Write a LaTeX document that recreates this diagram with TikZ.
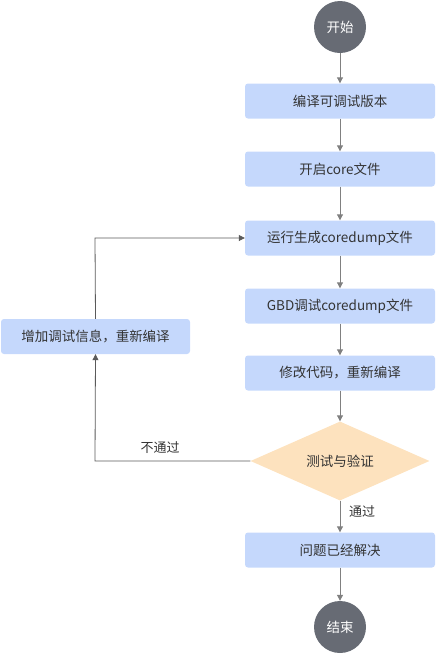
\documentclass[tikz,border=0pt]{standalone}
\usepackage{fontspec}
\setmainfont{Noto Sans CJK SC}
\usetikzlibrary{shapes.geometric,arrows.meta}
\definecolor{boxblue}{RGB}{197,216,252}
\definecolor{diaorange}{RGB}{253,226,190}
\definecolor{circgray}{RGB}{103,107,116}
\definecolor{txt}{RGB}{51,51,51}
\definecolor{arrgray}{RGB}{128,128,128}
\definecolor{loopgray}{RGB}{90,90,90}
\tikzset{
  stepbox/.style={rectangle, rounded corners=3pt, fill=boxblue, minimum width=190pt, minimum height=35pt, inner sep=0pt, text=txt, font=\fontsize{13.5}{16}\selectfont},
  term/.style={circle, fill=circgray, minimum size=52pt, inner sep=0pt, text=white, font=\fontsize{13.5}{16}\selectfont},
  decision/.style={diamond, fill=diaorange, minimum width=179pt, minimum height=79pt, inner sep=0pt, aspect=2.27, text=txt, font=\fontsize{13.5}{16}\selectfont},
  flow/.style={draw=arrgray, line width=1pt, -{Triangle[length=6pt,width=6pt]}},
  loop/.style={draw=loopgray, line width=0.8pt, -{Triangle[length=6pt,width=6pt]}},
  lbl/.style={text=txt, font=\fontsize{13}{16}\selectfont, inner sep=0pt}
}
\begin{document}
\begin{tikzpicture}[x=1pt,y=-1pt]
\useasboundingbox (0,0) rectangle (436,654);
\node[term] (start) at (340,27) {开始};
\node[stepbox] (b1) at (340,101) {编译可调试版本};
\node[stepbox] (b2) at (340,169) {开启core文件};
\node[stepbox] (b3) at (340,238) {运行生成coredump文件};
\node[stepbox] (b4) at (340,306) {GBD调试coredump文件};
\node[stepbox] (b5) at (340,373) {修改代码，重新编译};
\node[decision] (d) at (340,461) {测试与验证};
\node[stepbox] (b6) at (340,550) {问题已经解决};
\node[term] (end) at (340,627) {结束};
\node[stepbox, minimum width=189pt] (left) at (95.5,336.5) {增加调试信息，重新编译};
\coordinate (c1) at (95,461);
\coordinate (c2) at (95,238);
\draw[flow] (start) -- (b1);
\draw[flow] (b1) -- (b2);
\draw[flow] (b2) -- (b3);
\draw[flow] (b3) -- (b4);
\draw[flow] (b4) -- (b5);
\draw[flow] (b5) -- (d);
\draw[flow] (d) -- (b6);
\draw[flow] (b6) -- (end);
\draw[loop] (d.west) -- (c1) -- (left.south);
\draw[loop] (left.north) -- (c2) -- (b3.west);
\node[lbl] (l1) at (160,448) {不通过};
\node[lbl] (l2) at (362,512) {通过};
\end{tikzpicture}
\end{document}
